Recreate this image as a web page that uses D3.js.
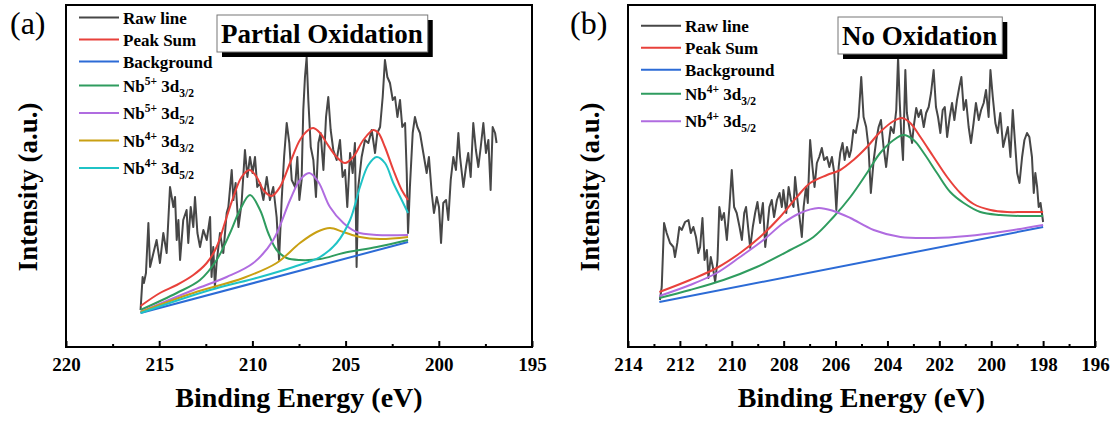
<!DOCTYPE html>
<html>
<head>
<meta charset="utf-8">
<script src="https://cdn.jsdelivr.net/npm/d3@7"></script>
<style>
  body { margin: 0; background: #fff; }
  text { font-family: "Liberation Serif", "Times New Roman", serif; }
</style>
</head>
<body>
<svg id="chart" width="1117" height="425"></svg>
<script>
// ---- data (binding energy in eV, intensity in a.u.) ----

// panel (a) : partial oxidation
const rawA = [
  [216.00,37],[215.89,70],[215.82,64],[215.71,74],[215.58,124],[215.49,80],[215.31,94],[215.14,107],
  [214.96,84],[214.78,114],[214.60,94],[214.42,160],[214.24,140],[214.15,150],[214.06,107],[213.97,127],
  [213.88,87],[213.71,127],[213.53,137],[213.44,104],[213.31,140],[213.17,120],[213.08,150],[212.95,114],
  [212.81,100],[212.63,117],[212.45,107],[212.27,130],[212.19,70],[212.10,100],[212.01,60],[211.92,84],
  [211.74,114],[211.56,94],[211.38,134],[211.29,140],[211.11,177],[211.02,147],[210.90,164],[210.75,120],
  [210.58,144],[210.40,197],[210.27,170],[210.13,190],[209.99,174],[209.86,190],[209.74,160],[209.59,164],
  [209.41,147],[209.23,170],[209.06,147],[208.88,160],[208.70,130],[208.57,87],[208.43,147],[208.30,190],
  [208.16,224],[208.02,204],[207.89,167],[207.71,160],[207.59,190],[207.48,147],[207.36,167],[207.27,237],
  [207.18,270],[207.09,290],[207.00,247],[206.87,200],[206.73,187],[206.59,150],[206.46,204],[206.34,214],
  [206.19,177],[206.05,230],[205.93,250],[205.80,217],[205.66,197],[205.48,187],[205.30,207],[205.16,170],
  [205.03,177],[204.91,140],[204.76,194],[204.62,174],[204.50,204],[204.41,80],[204.32,160],[204.14,190],
  [203.96,207],[203.78,204],[203.60,217],[203.42,194],[203.30,214],[203.15,220],[203.01,250],[202.89,287],
  [202.76,270],[202.62,264],[202.47,247],[202.35,250],[202.22,230],[202.08,247],[201.96,220],[201.81,224],
  [201.72,174],[201.65,114],[201.55,160],[201.40,214],[201.28,230],[201.15,220],[201.01,214],[200.83,194],
  [200.65,174],[200.53,190],[200.38,154],[200.26,134],[200.11,150],[199.99,140],[199.88,104],[199.76,144],
  [199.61,147],[199.49,127],[199.36,167],[199.22,190],[199.08,177],[198.95,214],[198.86,190],[198.68,160],
  [198.54,180],[198.42,194],[198.29,170],[198.15,224],[198.01,197],[197.88,180],[197.75,200],[197.61,224],
  [197.47,194],[197.34,207],[197.22,157],[197.11,220],[196.98,214],[196.90,204]
];
const sumA = [
  [216.00,41],[214.96,54],[214.06,62],[213.17,72],[212.45,84],[211.92,100],[211.38,130],[211.02,150],
  [210.58,170],[210.16,177],[209.77,170],[209.41,157],[208.97,151],[208.52,160],[207.98,184],[207.45,207],
  [207.00,217],[206.73,219],[206.37,214],[206.02,204],[205.48,190],[205.03,184],[204.59,190],[204.05,207],
  [203.51,217],[203.24,214],[202.89,200],[202.44,177],[201.99,157],[201.65,147]
];
const backgroundA = [[216.00,34],[201.65,105]];
const nb5d32A = [
  [216.00,37],[214.06,54],[212.81,67],[211.92,87],[211.20,114],[210.67,137],[210.13,152],[209.59,137],
  [209.15,114],[208.70,97],[208.16,89],[207.45,87],[206.37,88],[205.12,94],[203.33,100],[201.65,107]
];
const nb5d52A = [
  [216.00,35],[213.17,57],[211.38,70],[209.95,84],[208.88,107],[207.98,147],[207.45,167],[206.95,174],
  [206.46,165],[205.84,140],[205.12,124],[204.41,115],[203.33,112],[201.65,112]
];
const nb4d32A = [
  [216.00,35],[213.17,54],[210.49,69],[208.70,84],[207.45,104],[206.55,115],[205.84,119],[205.12,115],
  [204.23,110],[203.15,108],[201.65,110]
];
const nb4d52A = [
  [216.00,34],[212.27,57],[209.59,70],[207.80,80],[206.37,90],[205.48,104],[204.76,127],[204.23,160],
  [203.78,182],[203.33,190],[202.89,184],[202.44,164],[201.99,147],[201.65,134]
];

// panel (b) : no oxidation
const rawB = [
  [212.77,47],[212.70,60],[212.61,124],[212.51,114],[212.38,104],[212.25,100],[212.19,90],[212.10,104],
  [212.02,120],[211.93,117],[211.80,125],[211.67,127],[211.58,114],[211.48,120],[211.38,110],[211.29,94],
  [211.22,100],[211.13,129],[211.05,87],[210.96,97],[210.90,69],[210.81,90],[210.73,80],[210.64,65],
  [210.55,87],[210.48,140],[210.39,127],[210.30,134],[210.19,107],[210.09,140],[210.00,177],[209.91,140],
  [209.81,134],[209.70,120],[209.61,107],[209.52,134],[209.45,140],[209.36,117],[209.29,99],[209.19,120],
  [209.10,134],[209.01,145],[208.91,124],[208.80,144],[208.71,100],[208.65,114],[208.55,140],[208.46,147],
  [208.37,130],[208.26,147],[208.16,154],[208.07,140],[208.01,157],[207.90,134],[207.81,160],[207.72,147],
  [207.62,140],[207.56,170],[207.47,147],[207.39,130],[207.30,110],[207.23,140],[207.14,160],[207.07,144],
  [206.98,207],[206.89,180],[206.81,160],[206.72,184],[206.63,190],[206.53,199],[206.44,187],[206.33,190],
  [206.24,180],[206.14,190],[206.05,174],[205.97,137],[205.88,180],[205.82,194],[205.73,204],[205.65,187],
  [205.56,200],[205.47,190],[205.40,197],[205.31,217],[205.22,214],[205.11,230],[205.01,270],[204.92,230],
  [204.82,220],[204.73,200],[204.64,154],[204.53,187],[204.43,207],[204.34,220],[204.25,227],[204.15,200],
  [204.05,180],[203.95,204],[203.87,220],[203.76,214],[203.66,237],[203.59,290],[203.53,247],[203.47,214],
  [203.40,187],[203.31,277],[203.25,234],[203.14,217],[203.05,204],[202.99,220],[202.89,239],[202.80,230],
  [202.71,237],[202.60,220],[202.51,234],[202.41,240],[202.32,254],[202.22,277],[202.13,240],[202.05,230],
  [201.96,214],[201.87,237],[201.79,240],[201.70,210],[201.60,230],[201.51,244],[201.42,227],[201.32,247],
  [201.23,260],[201.15,270],[201.06,237],[200.97,247],[200.87,220],[200.78,204],[200.68,224],[200.59,244],
  [200.48,227],[200.39,237],[200.29,244],[200.20,257],[200.10,230],[200.03,277],[199.94,250],[199.84,224],
  [199.75,214],[199.65,234],[199.54,200],[199.45,210],[199.36,220],[199.26,190],[199.17,237],[199.09,207],
  [199.00,174],[198.91,164],[198.81,190],[198.72,207],[198.62,214],[198.53,210],[198.43,190],[198.36,154],
  [198.30,174],[198.23,160],[198.17,140],[198.10,144],[198.00,125]
];
const sumB = [
  [212.79,55],[211.61,67],[210.58,79],[209.68,94],[208.91,110],[208.14,130],[207.49,150],[206.98,164],
  [206.33,172],[205.82,177],[205.31,187],[204.79,200],[204.28,215],[203.76,226],[203.44,229],[203.12,224],
  [202.73,210],[202.22,190],[201.70,170],[201.19,154],[200.68,143],[200.03,137],[199.39,135],[198.75,135],
  [198.00,135]
];
const backgroundB = [[212.79,45],[198.00,120]];
const nb4d32B = [
  [212.79,49],[211.61,57],[210.32,67],[209.04,80],[207.75,97],[206.85,110],[206.08,130],[205.43,150],
  [204.79,174],[204.28,194],[203.76,207],[203.38,212],[202.99,207],[202.60,194],[202.09,174],[201.58,155],
  [201.06,144],[200.42,135],[199.65,132],[198.87,131],[198.00,131]
];
const nb4d52B = [
  [212.79,51],[211.61,62],[210.58,74],[209.68,90],[208.78,107],[208.01,124],[207.36,134],[206.66,139],
  [206.08,136],[205.43,129],[204.53,117],[203.50,110],[202.22,109],[200.93,111],[199.39,116],[198.00,122]
];

// axis ticks
const ticksA = [220, 215, 210, 205, 200, 195];
const minorTicksA = [217.5, 212.5, 207.5, 202.5, 197.5];
const ticksB = [214, 212, 210, 208, 206, 204, 202, 200, 198, 196];
const minorTicksB = [213, 211, 209, 207, 205, 203, 201, 199, 197];

// legend labels (^ = superscript, _ = subscript)
const legendA = ["Raw line", "Peak Sum", "Background", "Nb^5+ 3d_3/2", "Nb^5+ 3d_5/2", "Nb^4+ 3d_3/2", "Nb^4+ 3d_5/2"];
const legendB = ["Raw line", "Peak Sum", "Background", "Nb^4+ 3d_3/2", "Nb^4+ 3d_5/2"];

// ---- styles ----
const COL = {
  raw: "#474747", sum: "#e8413b", bg: "#2c6bd6",
  green: "#2f9c5f", purple: "#b06ce0", gold: "#c9a013", teal: "#1fc3c6"
};

const svg = d3.select("#chart");
const PLOT_TOP = 5, PLOT_BOTTOM = 347;

const panels = [
  {
    left: 66, right: 532, domain: [220, 195], ticks: ticksA, minor: minorTicksA,
    tag: "(a)", tagX: 10, title: "Partial Oxidation", titleX: 217, titleY: 15,
    series: [
      { data: rawA, color: COL.raw, raw: true },
      { data: sumA, color: COL.sum },
      { data: backgroundA, color: COL.bg },
      { data: nb5d32A, color: COL.green },
      { data: nb5d52A, color: COL.purple },
      { data: nb4d32A, color: COL.gold },
      { data: nb4d52A, color: COL.teal }
    ],
    legend: legendA, legendTop: 17.5
  },
  {
    left: 628, right: 1095, domain: [214, 196], ticks: ticksB, minor: minorTicksB,
    tag: "(b)", tagX: 570, title: "No Oxidation", titleX: 838, titleY: 17,
    series: [
      { data: rawB, color: COL.raw, raw: true },
      { data: sumB, color: COL.sum },
      { data: backgroundB, color: COL.bg },
      { data: nb4d32B, color: COL.green },
      { data: nb4d52B, color: COL.purple }
    ],
    legend: legendB, legendTop: 25.7
  }
];

function addRichText(sel, label) {
  // split "Nb^5+ 3d_3/2" into plain / sup / sub parts
  const parts = label.split(/(\^\S+|_\S+)/).filter(s => s.length);
  let shift = 0;
  parts.forEach(p => {
    let target = 0, txt = p, size = null;
    if (p[0] === "^") { target = -7; txt = p.slice(1); size = 11.5; }
    else if (p[0] === "_") { target = 5; txt = p.slice(1); size = 11.5; }
    const t = sel.append("tspan").attr("dy", target - shift).text(txt);
    if (size) t.attr("font-size", size);
    shift = target;
  });
}

panels.forEach(p => {
  const g = svg.append("g");
  const x = d3.scaleLinear().domain(p.domain).range([p.left, p.right]);
  const y = d3.scaleLinear().domain([0, 342]).range([PLOT_BOTTOM, PLOT_TOP]);

  // curves
  const rawLine = d3.line().x(d => x(d[0])).y(d => y(d[1]));
  const fitLine = d3.line().x(d => x(d[0])).y(d => y(d[1])).curve(d3.curveCatmullRom.alpha(0.5));
  p.series.forEach(s => {
    g.append("path")
      .datum(s.data)
      .attr("d", s.raw ? rawLine : fitLine)
      .attr("fill", "none")
      .attr("stroke", s.color)
      .attr("stroke-width", 2)
      .attr("stroke-linejoin", "round");
  });

  // bottom axis, ticks pointing inward
  const axis = g.append("g")
    .attr("transform", "translate(0," + PLOT_BOTTOM + ")")
    .call(d3.axisBottom(x).tickValues(p.ticks).tickSizeInner(-6).tickSizeOuter(0).tickPadding(11).tickFormat(d3.format("d")));
  axis.select(".domain").remove();
  axis.selectAll("line").attr("stroke", "#000").attr("stroke-width", 2);
  axis.selectAll("text")
    .style("font-family", "'Liberation Serif', serif")
    .style("font-weight", "bold")
    .style("font-size", "19px")
    .attr("fill", "#000");

  const minorAxis = g.append("g")
    .attr("transform", "translate(0," + PLOT_BOTTOM + ")")
    .call(d3.axisBottom(x).tickValues(p.minor).tickSizeInner(-3).tickSizeOuter(0).tickFormat(""));
  minorAxis.select(".domain").remove();
  minorAxis.selectAll("line").attr("stroke", "#000").attr("stroke-width", 2);

  // frame
  g.append("rect")
    .attr("x", p.left).attr("y", PLOT_TOP)
    .attr("width", p.right - p.left).attr("height", PLOT_BOTTOM - PLOT_TOP)
    .attr("fill", "none").attr("stroke", "#000").attr("stroke-width", 2);

  // axis titles
  const cx = (p.left + p.right) / 2;
  g.append("text")
    .attr("x", cx).attr("y", 407)
    .attr("text-anchor", "middle")
    .attr("font-weight", "bold").attr("font-size", 28)
    .text("Binding Energy (eV)");
  g.append("text")
    .attr("transform", "translate(" + (p.left - 29) + ",187) rotate(-90)")
    .attr("text-anchor", "middle")
    .attr("font-weight", "bold").attr("font-size", 27)
    .text("Intensity (a.u.)");

  // panel tag
  g.append("text")
    .attr("x", p.tagX).attr("y", 34)
    .attr("font-size", 32)
    .text(p.tag);

  // legend
  let ly = p.legendTop, prevSub = false;
  p.legend.forEach((lab, i) => {
    const hasSup = lab.includes("^"), hasSub = lab.includes("_");
    if (i > 0) ly += prevSub ? 27.5 : (hasSup ? 24 : 22);
    g.append("line")
      .attr("x1", p.left + 13).attr("x2", p.left + 53)
      .attr("y1", ly).attr("y2", ly)
      .attr("stroke", p.series[i].color).attr("stroke-width", 2);
    const t = g.append("text")
      .attr("x", p.left + 57).attr("y", ly + 6)
      .attr("font-weight", "bold").attr("font-size", 17);
    addRichText(t, lab);
    prevSub = hasSub;
  });

  // title box with shadow
  const tb = g.append("g");
  const shadow = tb.append("rect").attr("fill", "#000");
  const box = tb.append("rect").attr("fill", "#fff").attr("stroke", "#777").attr("stroke-width", 1);
  const tt = tb.append("text")
    .attr("x", p.titleX + 4).attr("y", p.titleY + 28)
    .attr("font-weight", "bold").attr("font-size", 27)
    .text(p.title);
  const w = tt.node().getComputedTextLength() + 9;
  box.attr("x", p.titleX).attr("y", p.titleY).attr("width", w).attr("height", 37);
  shadow.attr("x", p.titleX + 5).attr("y", p.titleY + 5).attr("width", w).attr("height", 37);
});
</script>
</body>
</html>
